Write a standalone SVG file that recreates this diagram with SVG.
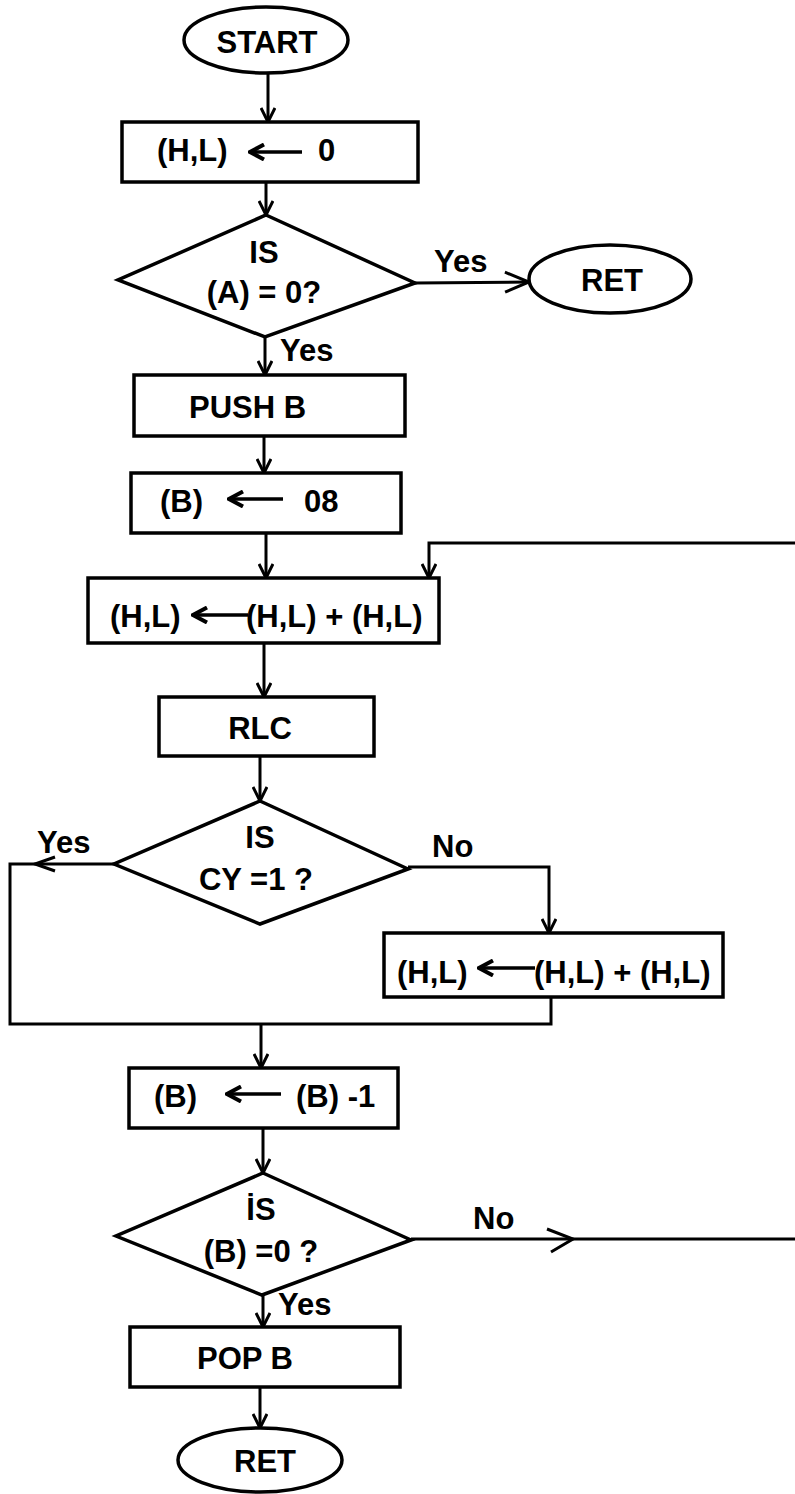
<svg xmlns="http://www.w3.org/2000/svg" width="795" height="1494" viewBox="0 0 795 1494">
  <style>
    .shape { fill: #fff; stroke: #000; stroke-width: 3.5; }
    .wire { fill: none; stroke: #000; stroke-width: 3; }
    .asg { fill: none; stroke: #000; stroke-width: 3.5; }
    .t { font-family: "Liberation Sans", Arial, sans-serif; font-weight: bold; font-size: 31px; fill: #000; }
    .c { text-anchor: middle; }
  </style>
  <defs>
    <!-- open V arrowhead for flow lines -->
    <marker id="head" viewBox="0 0 16 16" refX="15" refY="8" markerWidth="16" markerHeight="16" markerUnits="userSpaceOnUse" orient="auto">
      <path d="M1,1 L15,8 L1,15" fill="none" stroke="#000" stroke-width="3"/>
    </marker>
    <!-- larger open head for side exits -->
    <marker id="headBig" viewBox="0 0 28 24" refX="26" refY="12" markerWidth="28" markerHeight="24" markerUnits="userSpaceOnUse" orient="auto">
      <path d="M2,2 L26,12 L2,22" fill="none" stroke="#000" stroke-width="3"/>
    </marker>
    <!-- assignment arrow inside boxes -->
    <marker id="assign" viewBox="0 0 18 18" refX="16" refY="9" markerWidth="18" markerHeight="18" markerUnits="userSpaceOnUse" orient="auto">
      <path d="M2,1.5 L16,9 L2,16.5" fill="none" stroke="#000" stroke-width="4"/>
    </marker>
  </defs>

  <g id="connectors">
    <line class="wire" x1="268" y1="73" x2="268" y2="122" marker-end="url(#head)"/>
    <line class="wire" x1="266" y1="182" x2="266" y2="215" marker-end="url(#head)"/>
    <line class="wire" x1="415" y1="283" x2="529" y2="282" marker-end="url(#headBig)"/>
    <line class="wire" x1="265" y1="337" x2="265" y2="375" marker-end="url(#head)"/>
    <line class="wire" x1="264" y1="436" x2="264" y2="473" marker-end="url(#head)"/>
    <line class="wire" x1="266" y1="533" x2="266" y2="578" marker-end="url(#head)"/>
    <polyline class="wire" points="795,543 429,543 429,578" marker-end="url(#head)"/>
    <line class="wire" x1="264" y1="643" x2="264" y2="697" marker-end="url(#head)"/>
    <line class="wire" x1="260" y1="756" x2="260" y2="801" marker-end="url(#head)"/>
    <polyline class="wire" points="114,864 10,864 10,1024 551,1024 551,997"/>
    <polyline class="wire" points="55,857 35,864 55,871"/>
    <polyline class="wire" points="408,867 549,867 549,933" marker-end="url(#head)"/>
    <line class="wire" x1="261" y1="1024" x2="261" y2="1068" marker-end="url(#head)"/>
    <line class="wire" x1="263" y1="1128" x2="263" y2="1173" marker-end="url(#head)"/>
    <line class="wire" x1="411" y1="1239" x2="795" y2="1239"/>
    <polyline class="wire" points="547,1229 573,1239 551,1252"/>
    <line class="wire" x1="263" y1="1295" x2="263" y2="1327" marker-end="url(#head)"/>
    <line class="wire" x1="260" y1="1387" x2="260" y2="1428" marker-end="url(#head)"/>
  </g>

  <g id="labels">
    <text class="t" x="434" y="272">Yes</text>
    <text class="t" x="280" y="361">Yes</text>
    <text class="t" x="37" y="853">Yes</text>
    <text class="t" x="432" y="857">No</text>
    <text class="t" x="473" y="1229">No</text>
    <text class="t" x="278" y="1315">Yes</text>
  </g>

  <g id="start">
    <ellipse class="shape" cx="266" cy="40" rx="82" ry="33"/>
    <text class="t c" x="267" y="53">START</text>
  </g>

  <g id="clear-hl">
    <rect class="shape" x="122" y="122" width="296" height="60"/>
    <text class="t" x="157" y="161">(H,L)</text>
    <line class="asg" x1="302" y1="152" x2="250" y2="152" marker-end="url(#assign)"/>
    <text class="t" x="318" y="161">0</text>
  </g>

  <g id="test-a">
    <polygon class="shape" points="266,215 415,283 265,337 118,280"/>
    <text class="t c" x="264" y="263">IS</text>
    <text class="t c" x="264" y="303">(A) = 0?</text>
  </g>

  <g id="ret-early">
    <ellipse class="shape" cx="610" cy="279" rx="81" ry="34"/>
    <text class="t c" x="612" y="291">RET</text>
  </g>

  <g id="push-b">
    <rect class="shape" x="134" y="375" width="271" height="61"/>
    <text class="t" x="189" y="418">PUSH B</text>
  </g>

  <g id="load-b">
    <rect class="shape" x="131" y="473" width="270" height="60"/>
    <text class="t" x="160" y="512">(B)</text>
    <line class="asg" x1="283" y1="499" x2="229" y2="499" marker-end="url(#assign)"/>
    <text class="t" x="304" y="512">08</text>
  </g>

  <g id="double-hl">
    <rect class="shape" x="88" y="578" width="351" height="65"/>
    <text class="t" x="110" y="627">(H,L)</text>
    <line class="asg" x1="248" y1="615" x2="193" y2="615" marker-end="url(#assign)"/>
    <text class="t" x="246" y="627">(H,L) + (H,L)</text>
  </g>

  <g id="rlc">
    <rect class="shape" x="159" y="697" width="215" height="59"/>
    <text class="t c" x="260" y="739">RLC</text>
  </g>

  <g id="test-cy">
    <polygon class="shape" points="260,801 408,869 260,924 114,864"/>
    <text class="t c" x="260" y="848">IS</text>
    <text class="t c" x="256" y="890">CY =1 ?</text>
  </g>

  <g id="add-hl">
    <rect class="shape" x="384" y="933" width="339" height="64"/>
    <text class="t" x="397" y="983">(H,L)</text>
    <line class="asg" x1="535" y1="968" x2="479" y2="968" marker-end="url(#assign)"/>
    <text class="t" x="534" y="983">(H,L) + (H,L)</text>
  </g>

  <g id="dec-b">
    <rect class="shape" x="129" y="1068" width="269" height="60"/>
    <text class="t" x="154" y="1107">(B)</text>
    <line class="asg" x1="281" y1="1094" x2="227" y2="1094" marker-end="url(#assign)"/>
    <text class="t" x="296" y="1107">(B) -1</text>
  </g>

  <g id="test-b">
    <polygon class="shape" points="263,1173 411,1240 262,1295 116,1236"/>
    <text class="t c" x="261" y="1220">İS</text>
    <text class="t c" x="261" y="1262">(B) =0 ?</text>
  </g>

  <g id="pop-b">
    <rect class="shape" x="130" y="1327" width="270" height="60"/>
    <text class="t" x="197" y="1369">POP B</text>
  </g>

  <g id="ret-end">
    <ellipse class="shape" cx="260" cy="1460" rx="82" ry="32"/>
    <text class="t c" x="265" y="1472">RET</text>
  </g>
</svg>
